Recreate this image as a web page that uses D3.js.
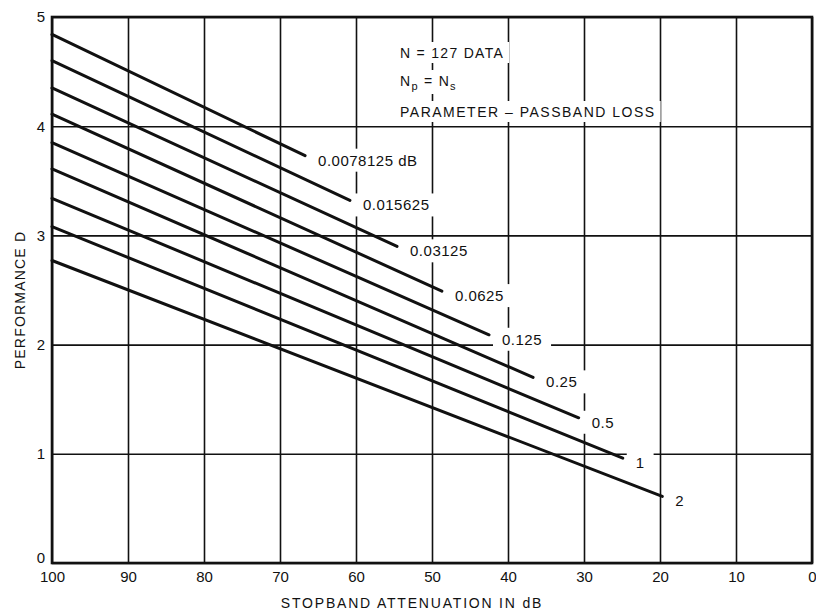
<!DOCTYPE html>
<html lang="en">
    <head>
        <script src="https://d3js.org/d3.v7.min.js"></script>
        <title>Performance D vs stopband attenuation</title>
        <style>
            body { margin: 0; background: #fff; }
            text { font-family: "Liberation Sans", Arial, sans-serif; fill: #111; }
        </style>
    </head>

    <body>
        <div id="plot-div"></div>
        <script>
            const width = 816
            const height = 612

            let margin = {
                top: 17,
                left: 52,
                right: 4,
                bottom: 49
            }

            // passband loss parameter for each line
            const lossLabels = ["0.0078125 dB", "0.015625", "0.03125", "0.0625", "0.125", "0.25", "0.5", "1", "2"]
            // performance D at 100 dB stopband attenuation (left edge)
            const startD = [4.84, 4.60, 4.35, 4.11, 3.85, 3.61, 3.34, 3.08, 2.77]
            // where each line stops
            const endAtten = [66.7, 60.8, 54.6, 48.7, 42.5, 36.7, 30.7, 24.9, 19.7]
            const endD = [3.73, 3.32, 2.90, 2.49, 2.09, 1.70, 1.33, 0.96, 0.61]

            const xTicks = [100, 90, 80, 70, 60, 50, 40, 30, 20, 10, 0]
            const yTicks = [0, 1, 2, 3, 4, 5]

            const notes = ["N = 127 DATA", "Np = Ns", "PARAMETER \u2013 PASSBAND  LOSS"]

            let xScale = d3.scaleLinear()
            .domain([100, 0])
            .range([margin.left, width - margin.right])

            let yScale = d3.scaleLinear()
            .domain([0, 5])
            .range([height - margin.bottom, margin.top])

            var svg = d3.select("#plot-div")
            .append("svg")
            .attr("width", width)
            .attr("height", height)

            // grid via axes
            svg.append("g")
            .attr("transform", `translate(0,${height - margin.bottom})`)
            .call(d3.axisBottom(xScale).tickValues(xTicks).tickFormat(d3.format("d"))
                .tickSizeInner(-(height - margin.top - margin.bottom)).tickSizeOuter(0).tickPadding(8))
            .call(g => g.select(".domain").remove())
            .call(g => g.selectAll(".tick line").attr("stroke", "#111").attr("stroke-width", 1.6))
            .call(g => g.selectAll(".tick text").attr("font-size", 15))

            svg.append("g")
            .attr("transform", `translate(${margin.left},0)`)
            .call(d3.axisLeft(yScale).tickValues(yTicks).tickFormat(d3.format("d"))
                .tickSizeInner(-(width - margin.left - margin.right)).tickSizeOuter(0).tickPadding(7))
            .call(g => g.select(".domain").remove())
            .call(g => g.selectAll(".tick line").attr("stroke", "#111").attr("stroke-width", 1.6))
            .call(g => g.selectAll(".tick text").attr("font-size", 15))
            // the zero label sits a little above the corner
            .call(g => g.selectAll(".tick text").filter(d => d === 0).attr("dy", "-0.05em"))

            // frame
            svg.append("rect")
            .attr("x", xScale(100))
            .attr("y", yScale(5))
            .attr("width", xScale(0) - xScale(100))
            .attr("height", yScale(0) - yScale(5))
            .attr("fill", "none")
            .attr("stroke", "#111")
            .attr("stroke-width", 2.6)

            // axis titles
            svg.append("text")
            .attr("x", 412)
            .attr("y", 608)
            .attr("text-anchor", "middle")
            .attr("font-size", 14)
            .attr("letter-spacing", 1.8)
            .text("STOPBAND  ATTENUATION  IN  dB")

            svg.append("text")
            .attr("transform", "translate(25,300) rotate(-90)")
            .attr("text-anchor", "middle")
            .attr("font-size", 14)
            .attr("letter-spacing", 1.2)
            .text("PERFORMANCE  D")

            let labelLayer = svg.append("g")
            let lineLayer = svg.append("g")

            // annotation text block
            let noteG = labelLayer.append("g")
            noteG.append("text").attr("x", 400).attr("y", 58).attr("font-size", 14)
            .attr("letter-spacing", 1.3).text(notes[0])
            let np = noteG.append("text").attr("x", 400).attr("y", 86).attr("font-size", 14)
            .attr("letter-spacing", 1.3)
            np.append("tspan").text("N")
            np.append("tspan").attr("dy", 4).attr("font-size", 11).text("p")
            np.append("tspan").attr("dy", -4).text(" = N")
            np.append("tspan").attr("dy", 4).attr("font-size", 11).text("s")
            noteG.append("text").attr("x", 400).attr("y", 117).attr("font-size", 14)
            .attr("letter-spacing", 1.5).text(notes[2])

            let lines = lossLabels.map((name, i) => ({
                name: name,
                pts: [[100, startD[i]], [endAtten[i], endD[i]]]
            }))

            let lineGen = d3.line()
            .x(d => xScale(d[0]))
            .y(d => yScale(d[1]))

            lineLayer.selectAll("path")
            .data(lines)
            .join("path")
            .attr("d", d => lineGen(d.pts))
            .attr("fill", "none")
            .attr("stroke", "#111")
            .attr("stroke-width", 3)
            .attr("stroke-linecap", "round")

            lineLayer.selectAll("text.loss")
            .data(lines)
            .join("text")
            .attr("class", "loss")
            .attr("x", d => xScale(d.pts[1][0]) + 13)
            .attr("y", d => yScale(d.pts[1][1]) + 10)
            .attr("font-size", 15)
            .attr("letter-spacing", 0.5)
            .text(d => d.name)

            // white backing behind texts so the grid breaks around them
            noteG.selectAll("text").each(function () {
                let b = this.getBBox()
                labelLayer.insert("rect", ":first-child")
                .attr("x", b.x - 5)
                .attr("y", b.y - 3)
                .attr("width", b.width + 10)
                .attr("height", b.height + 5)
                .attr("fill", "#fff")
            })
            lineLayer.selectAll("text.loss").each(function () {
                let b = this.getBBox()
                labelLayer.insert("rect", ":first-child")
                .attr("x", b.x - 9)
                .attr("y", b.y - 3)
                .attr("width", b.width + 18)
                .attr("height", b.height + 6)
                .attr("fill", "#fff")
            })
        </script>
    </body>
</html>
